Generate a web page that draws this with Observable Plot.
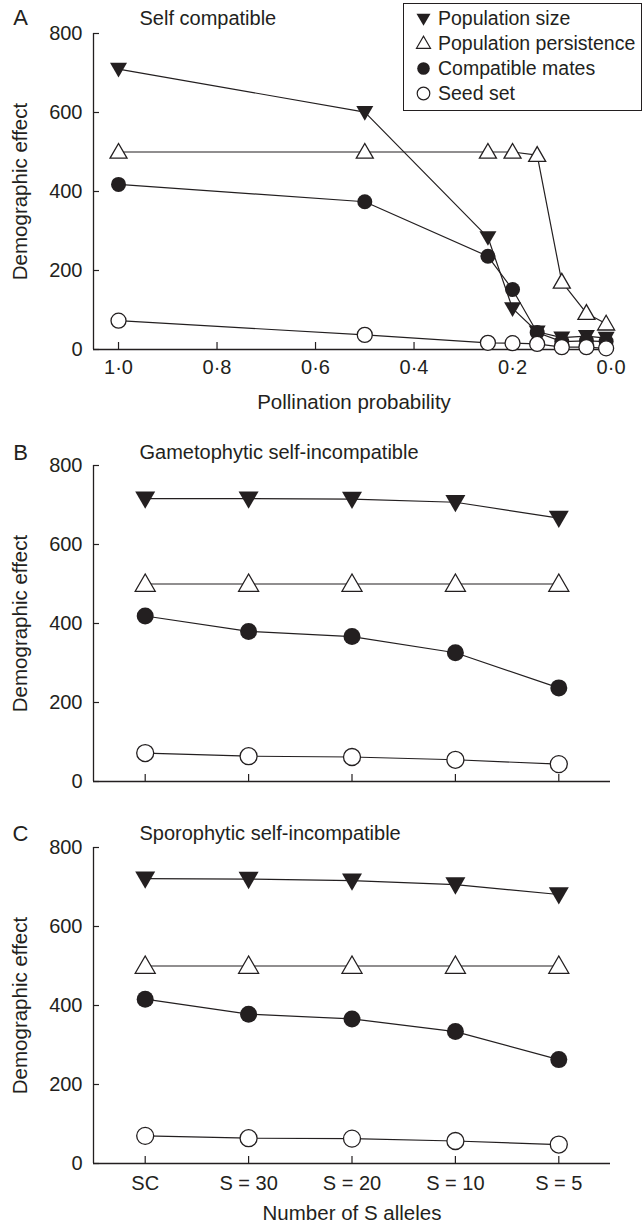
<!DOCTYPE html>
<html>
<head>
<meta charset="utf-8">
<script src="https://cdn.jsdelivr.net/npm/d3@7"></script>
<script src="https://cdn.jsdelivr.net/npm/@observablehq/plot@0.6"></script>
<style>
  body { margin: 0; background: #fff; }
  #root { position: relative; width: 644px; height: 1226px; overflow: hidden; background: #fff;
          font-family: "Liberation Sans", Arial, Helvetica, sans-serif; color: #231f20; }
  .panel { position: absolute; left: 0; }
  #legend { position: absolute; left: 403px; top: 3px; width: 237px; height: 106px;
            border: 1.3px solid #231f20; background: #fff; }
  .lrow { position: absolute; left: 0; height: 24px; display: flex; align-items: center; font-size: 19.5px; white-space: nowrap; }
  .lrow svg { margin-left: 11px; margin-right: 6px; }
</style>
</head>
<body>
<div id="root"></div>
<script>
// ---------- data ----------
const seriesNames = ["Population size", "Population persistence", "Compatible mates", "Seed set"];

// Panel A: self compatible, x = pollination probability
const pollination = [1.0, 0.5, 0.25, 0.2, 0.15, 0.1, 0.05, 0.01];
const aSize    = [710, 601, 284, 104, 45, 30, 34, 29];
const aPersist = [500, 500, 500, 500, 492, 171, 92, 65];
const aMates   = [418, 374, 236, 152, 43, 20, 22, 20];
const aSeed    = [73, 37, 17, 16, 14, 6, 6, 3];
const aTicks   = [1.0, 0.8, 0.6, 0.4, 0.2, 0.0];

// Panels B, C: number of S alleles
const alleles  = ["SC", "S = 30", "S = 20", "S = 10", "S = 5"];
const bSize    = [716, 716, 715, 707, 667];
const bPersist = [500, 500, 500, 500, 500];
const bMates   = [419, 380, 367, 326, 237];
const bSeed    = [72, 64, 62, 55, 44];

const cSize    = [721, 720, 716, 706, 681];
const cPersist = [500, 500, 500, 500, 500];
const cMates   = [416, 378, 366, 334, 263];
const cSeed    = [70, 64, 63, 57, 48];

const yTicks = [0, 200, 400, 600, 800];

// ---------- symbols ----------
const triDown = { draw(ctx, size) { const w = Math.sqrt(size / Math.PI), h = w * Math.sqrt(3);
  ctx.moveTo(-w, -0.42 * h); ctx.lineTo(w, -0.42 * h); ctx.lineTo(0, 0.58 * h); ctx.closePath(); } };
const triUp = { draw(ctx, size) { const w = Math.sqrt(size / Math.PI), h = w * Math.sqrt(3);
  ctx.moveTo(-w, 0.42 * h); ctx.lineTo(w, 0.42 * h); ctx.lineTo(0, -0.58 * h); ctx.closePath(); } };

const ink = "#231f20";
const styles = [
  { symbol: triDown, fill: ink, stroke: "none", tri: true },
  { symbol: triUp, fill: "white", stroke: ink, tri: true },
  { symbol: "circle", fill: ink, stroke: "none", tri: false },
  { symbol: "circle", fill: "white", stroke: ink, tri: false }
];

function buildRows(xs, seriesArrays) {
  const rows = [];
  seriesArrays.forEach((arr, i) => arr.forEach((v, j) => rows.push({ series: seriesNames[i], x: xs[j], y: v })));
  return rows;
}

const W = 644, ML = 93, MT = 33, PH = 316;

function panel({ rows, xDomain, xTickPos, xTickText, marginRight, height, marginBottom,
                 letter, letterDy, title, titleDy, xLabel, tickDy, labelDy, triW, circR }) {
  const PW = W - ML - marginRight;
  const marks = [
    Plot.ruleY([0], { stroke: ink, strokeWidth: 1.3 }),
    Plot.ruleX([xDomain[0]], { stroke: ink, strokeWidth: 1.3 }),
    Plot.ruleX(xTickPos, { x: d => d, insetTop: PH - 7, stroke: ink, strokeWidth: 1.2 }),
    Plot.ruleY(yTicks, { y: d => d, insetRight: PW - 6, stroke: ink, strokeWidth: 1.2 }),
    Plot.text(yTicks, { y: d => d, text: d => String(d), frameAnchor: "left", dx: -11,
      textAnchor: "end", lineAnchor: "middle", fontSize: 20, fill: ink }),
    Plot.line(rows, { x: "x", y: "y", z: "series", stroke: ink, strokeWidth: 1.2 }),
    ...seriesNames.map((name, i) => Plot.dot(rows.filter(r => r.series === name), {
      x: "x", y: "y", symbol: styles[i].symbol, r: styles[i].tri ? triW : circR,
      fill: styles[i].fill, stroke: styles[i].stroke, strokeWidth: 1.3
    })),
    Plot.text(["Demographic effect"], { text: d => d, frameAnchor: "left", dx: 20 - ML, rotate: -90,
      textAnchor: "middle", lineAnchor: "middle", fontSize: 20.5, fill: ink }),
    Plot.text([letter], { text: d => d, frameAnchor: "top-left", dx: 20 - ML, dy: letterDy,
      textAnchor: "middle", lineAnchor: "middle", fontSize: 22, fill: ink }),
    Plot.text([title], { text: d => d, frameAnchor: "top-left", dx: 139 - ML, dy: titleDy,
      textAnchor: "start", lineAnchor: "middle", fontSize: 20, fill: ink })
  ];
  if (xTickText) {
    marks.push(Plot.text(xTickPos, { x: d => d, text: (d, i) => xTickText[i], frameAnchor: "bottom", dy: tickDy,
      textAnchor: "middle", lineAnchor: "middle", fontSize: 20, fill: ink }));
  }
  if (xLabel) {
    marks.push(Plot.text([xLabel], { text: d => d, frameAnchor: "bottom", dy: labelDy,
      textAnchor: "middle", lineAnchor: "middle", fontSize: 20.5, fill: ink }));
  }
  return Plot.plot({
    width: W, height, marginLeft: ML, marginRight, marginTop: MT, marginBottom,
    style: { fontFamily: '"Liberation Sans", Arial, Helvetica, sans-serif', background: "transparent", overflow: "visible" },
    x: { type: "linear", domain: xDomain, axis: null },
    y: { type: "linear", domain: [0, 800], axis: null },
    marks
  });
}

const fmtDot = d => d.toFixed(1).replace(".", "\u00B7");
const root = document.getElementById("root");
function place(el, top) { const d = document.createElement("div"); d.className = "panel"; d.style.top = top + "px"; d.appendChild(el); root.appendChild(d); }

// Panel A
place(panel({
  rows: buildRows(pollination, [aSize, aPersist, aMates, aSeed]),
  xDomain: [1.0508, -0.007], xTickPos: aTicks, xTickText: aTicks.map(fmtDot),
  marginRight: 30, height: 432, marginBottom: 432 - MT - PH,
  letter: "A", letterDy: -16, title: "Self compatible", titleDy: -15,
  xLabel: "Pollination probability", tickDy: 18, labelDy: 53, triW: 8.5, circR: 7.5
}), 0);

const idx = alleles.map((_, i) => i);
// Panel B
place(panel({
  rows: buildRows(idx, [bSize, bPersist, bMates, bSeed]),
  xDomain: [-0.5, 4.5], xTickPos: idx, xTickText: null,
  marginRight: 34, height: 382, marginBottom: 382 - MT - PH,
  letter: "B", letterDy: -13, title: "Gametophytic self-incompatible", titleDy: -13,
  xLabel: null, tickDy: 0, labelDy: 0, triW: 10, circR: 8.5
}), 432);

// Panel C
place(panel({
  rows: buildRows(idx, [cSize, cPersist, cMates, cSeed]),
  xDomain: [-0.5, 4.5], xTickPos: idx, xTickText: alleles,
  marginRight: 34, height: 412, marginBottom: 412 - MT - PH,
  letter: "C", letterDy: -14, title: "Sporophytic self-incompatible", titleDy: -14,
  xLabel: "Number of S alleles", tickDy: 20, labelDy: 50, triW: 10, circR: 8.5
}), 814);

// Legend
const legend = document.createElement("div");
legend.id = "legend";
const legendPaths = [
  { d: "M-7,-4.8L7,-4.8L0,7.2Z", fill: ink, stroke: "none" },
  { d: "M-7,4.8L7,4.8L0,-7.2Z", fill: "white", stroke: ink },
  { circle: true, fill: ink, stroke: "none" },
  { circle: true, fill: "white", stroke: ink }
];
const rowCenters = [14, 39, 64, 89];
seriesNames.forEach((name, i) => {
  const row = document.createElement("div");
  row.className = "lrow";
  row.style.top = (rowCenters[i] - 12) + "px";
  const p = legendPaths[i];
  const shape = p.circle
    ? `<circle cx="0" cy="0" r="6.3" fill="${p.fill}" stroke="${p.stroke}" stroke-width="1.2"/>`
    : `<path d="${p.d}" fill="${p.fill}" stroke="${p.stroke}" stroke-width="1.2"/>`;
  row.innerHTML = `<svg width="17" height="17" viewBox="-8.5 -8.5 17 17">${shape}</svg><span>${name}</span>`;
  legend.appendChild(row);
});
root.appendChild(legend);
</script>
</body>
</html>
